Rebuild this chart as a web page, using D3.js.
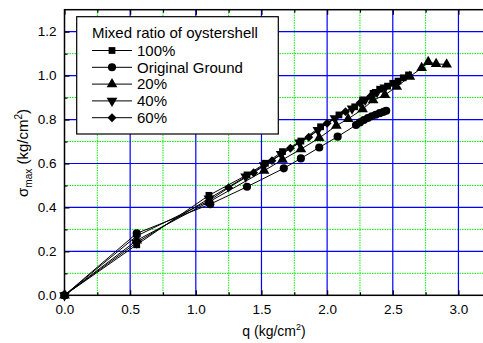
<!DOCTYPE html>
<html><head><meta charset="utf-8">
<script src="https://cdn.jsdelivr.net/npm/d3@7"></script>
<style>
body{margin:0;background:#fff;}
text{font-family:Arial,"Liberation Sans",sans-serif;fill:#000;}
</style></head>
<body><svg id="c" width="483" height="343"></svg>
<script>
// ---- data ----
const seriesNames = ["100%", "Original Ground", "20%", "40%", "60%"];
const legendTitle = "Mixed ratio of oystershell";
const xTicks = [0.0, 0.5, 1.0, 1.5, 2.0, 2.5, 3.0];
const yTicks = [0.0, 0.2, 0.4, 0.6, 0.8, 1.0, 1.2];
const s100 = [[0,0],[0.55,0.23],[1.1,0.455],[1.39,0.548],[1.53,0.601],[1.66,0.654],[1.80,0.702],[1.95,0.767],[2.09,0.821],[2.21,0.858],[2.27,0.889],[2.35,0.919],[2.40,0.938],[2.46,0.952],[2.50,0.965],[2.54,0.975],[2.58,0.99],[2.62,1.003]];
const sOrig = [[0,0],[0.55,0.282],[1.11,0.415],[1.39,0.494],[1.67,0.578],[1.80,0.623],[1.94,0.673],[2.08,0.722],[2.22,0.775],[2.25,0.787],[2.28,0.798],[2.31,0.807],[2.34,0.815],[2.37,0.822],[2.40,0.829],[2.43,0.835],[2.45,0.84]];
const s20 = [[0,0],[0.55,0.25],[1.1,0.425],[1.52,0.567],[1.66,0.617],[1.80,0.665],[1.94,0.716],[2.07,0.772],[2.16,0.803],[2.27,0.847],[2.35,0.888],[2.44,0.912],[2.53,0.95],[2.63,0.995],[2.72,1.035],[2.77,1.062],[2.83,1.053],[2.91,1.051]];
const s40 = [[0,0],[0.55,0.24],[1.1,0.44],[1.38,0.54],[1.52,0.592],[1.65,0.643],[1.79,0.695],[1.93,0.752],[2.06,0.805],[2.19,0.85],[2.29,0.89],[2.38,0.925],[2.44,0.945]];
const s60 = [[0,0],[0.55,0.27],[1.1,0.43],[1.25,0.49],[1.44,0.558],[1.58,0.613],[1.72,0.669],[1.86,0.719],[2.0,0.783],[2.14,0.836],[2.25,0.875],[2.33,0.905]];
const allSeries = [s100, sOrig, s20, s40, s60];

// ---- layout ----
const L = 64.5, R = 484.7, T = 9.7, B = 295.3;
const x = d3.scaleLinear().domain([0, 3.2]).range([L, R]);
const y = d3.scaleLinear().domain([0, 1.3]).range([B, T]);
const svg = d3.select("#c");

const shapes = [
  {type: d3.symbolSquare, size: 46, rot: 0},
  {type: d3.symbolCircle, size: 52, rot: 0},
  {type: d3.symbolTriangle, size: 50, rot: 0},
  {type: d3.symbolTriangle, size: 50, rot: 180},
  {type: d3.symbolSquare, size: 40, rot: 45}
];

// grid
const g = svg.append("g");
const minorX = d3.range(0.25, 3.2, 0.5);
const minorY = d3.range(0.1, 1.3, 0.2);
g.selectAll(".mx").data(minorX).join("line")
  .attr("x1", d => x(d)).attr("x2", d => x(d)).attr("y1", T).attr("y2", B)
  .attr("stroke", "#00ee00").attr("stroke-width", 1).attr("stroke-dasharray", "1.5,1");
g.selectAll(".my").data(minorY).join("line")
  .attr("y1", d => y(d)).attr("y2", d => y(d)).attr("x1", L).attr("x2", R)
  .attr("stroke", "#00ee00").attr("stroke-width", 1).attr("stroke-dasharray", "1.5,1");
g.selectAll(".Mx").data(xTicks.slice(1)).join("line")
  .attr("x1", d => x(d)).attr("x2", d => x(d)).attr("y1", T).attr("y2", B)
  .attr("stroke", "#0000ff").attr("stroke-width", 1.2);
g.selectAll(".My").data(yTicks.slice(1)).join("line")
  .attr("y1", d => y(d)).attr("y2", d => y(d)).attr("x1", L).attr("x2", R)
  .attr("stroke", "#0000ff").attr("stroke-width", 1.2);

// axes with inward ticks
const fmt = d3.format(".1f");
const xAxis = svg.append("g").attr("transform", `translate(0,${B})`)
  .call(d3.axisBottom(x).tickValues(xTicks).tickFormat(fmt).tickSizeInner(-5).tickSizeOuter(0).tickPadding(9));
const xAxisMinor = svg.append("g").attr("transform", `translate(0,${B})`)
  .call(d3.axisBottom(x).tickValues(minorX).tickFormat("").tickSizeInner(-3).tickSizeOuter(0));
const xTop = svg.append("g").attr("transform", `translate(0,${T})`)
  .call(d3.axisTop(x).tickValues(xTicks).tickFormat("").tickSizeInner(-5).tickSizeOuter(0));
const xTopMinor = svg.append("g").attr("transform", `translate(0,${T})`)
  .call(d3.axisTop(x).tickValues(minorX).tickFormat("").tickSizeInner(-3).tickSizeOuter(0));
const yAxis = svg.append("g").attr("transform", `translate(${L},0)`)
  .call(d3.axisLeft(y).tickValues(yTicks).tickFormat(fmt).tickSizeInner(-5).tickSizeOuter(0).tickPadding(8));
const yAxisMinor = svg.append("g").attr("transform", `translate(${L},0)`)
  .call(d3.axisLeft(y).tickValues(minorY).tickFormat("").tickSizeInner(-3).tickSizeOuter(0));
[xAxis, xAxisMinor, xTop, xTopMinor, yAxis, yAxisMinor].forEach(a => {
  a.select(".domain").remove();
  a.selectAll("line").attr("stroke", "#000").attr("stroke-width", 1.2);
  a.selectAll("text").style("font-size", "13.5px").style("font-family", "Arial, 'Liberation Sans', sans-serif");
});

// frame
svg.append("rect").attr("x", L).attr("y", T).attr("width", R - L).attr("height", B - T)
  .attr("fill", "none").attr("stroke", "#000").attr("stroke-width", 1.5);

// series
const line = d3.line().x(d => x(d[0])).y(d => y(d[1]));
allSeries.forEach((s, i) => {
  svg.append("path").datum(s).attr("d", line).attr("fill", "none")
    .attr("stroke", "#000").attr("stroke-width", 1);
});
allSeries.forEach((s, i) => {
  const sh = shapes[i];
  svg.append("g").selectAll("path").data(s).join("path")
    .attr("d", d3.symbol().type(sh.type).size(sh.size))
    .attr("transform", d => `translate(${x(d[0])},${y(d[1])}) rotate(${sh.rot})`)
    .attr("fill", "#000");
});

// legend
const lg = svg.append("g");
lg.append("rect").attr("x", 76.7).attr("y", 16.7).attr("width", 201.6).attr("height", 117.3)
  .attr("fill", "#fff").attr("stroke", "#000").attr("stroke-width", 1.2);
lg.append("text").attr("x", 92).attr("y", 37.5).style("font-size", "15px").text(legendTitle);
seriesNames.forEach((n, i) => {
  const cy = 50.5 + i * 16.8;
  lg.append("line").attr("x1", 92).attr("x2", 132).attr("y1", cy).attr("y2", cy)
    .attr("stroke", "#000").attr("stroke-width", 1);
  const sh = shapes[i];
  lg.append("path").attr("d", d3.symbol().type(sh.type).size(sh.size))
    .attr("transform", `translate(112,${cy}) rotate(${sh.rot})`).attr("fill", "#000");
  lg.append("text").attr("x", 137).attr("y", cy + 5.3).style("font-size", "15px").text(n);
});

// axis labels
const xl = svg.append("text").attr("x", 274).attr("y", 336).attr("text-anchor", "middle").style("font-size", "14px");
xl.append("tspan").text("q (kg/cm");
xl.append("tspan").attr("dy", -6).style("font-size", "9px").text("2");
xl.append("tspan").attr("dy", 6).text(")");

const yl = svg.append("text").attr("transform", "translate(28,153) rotate(-90)").attr("text-anchor", "middle").style("font-size", "15px");
yl.append("tspan").text("σ");
yl.append("tspan").attr("dy", 4).style("font-size", "10px").text("max");
yl.append("tspan").attr("dy", -4).text(" (kg/cm");
yl.append("tspan").attr("dy", -6).style("font-size", "10px").text("2");
yl.append("tspan").attr("dy", 6).text(")");
</script></body></html>
